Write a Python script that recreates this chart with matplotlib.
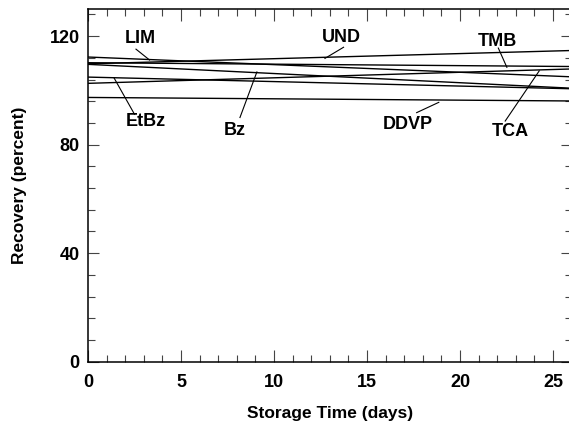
import matplotlib
matplotlib.use("Agg")
import matplotlib.pyplot as plt
from matplotlib.ticker import MultipleLocator

plt.rcParams['font.family'] = ['Liberation Sans', 'DejaVu Sans']
plt.rcParams['font.weight'] = 'bold'

# Regression lines: recovery (%) at day 0 and at day 26
compounds = ["LIM", "UND", "TMB", "Bz", "TCA", "EtBz", "DDVP"]
start_vals = [112.3, 109.8, 110.2, 109.6, 102.6, 104.9, 97.4]
end_vals = [105.0, 114.7, 108.8, 100.8, 107.9, 100.6, 96.1]
days = [0, 26]

# Label text positions and pointer (from -> to) in data units
label_xy = [(2.8, 119.2), (13.6, 119.5), (22.0, 118.2), (7.9, 85.3), (22.7, 85.0), (3.1, 88.5), (17.2, 87.6)]
ptr_from = [(2.58, 115.2), (13.74, 115.9), (22.06, 115.6), (8.17, 90.0), (22.43, 88.7), (2.5, 91.2), (17.67, 91.8)]
ptr_to = [(3.31, 111.2), (12.74, 111.8), (22.52, 108.5), (9.08, 106.8), (24.26, 107.2), (1.4, 104.6), (18.86, 95.6)]

fig = plt.figure(figsize=(5.69, 4.25), dpi=100)
ax = fig.add_axes([88/569, (425-361.7)/425, (26*18.6)/569, (361.7-9)/425])

for name, s, e in zip(compounds, start_vals, end_vals):
    ax.plot(days, [s, e], color='black', lw=1.0)

for name, (tx, ty), (fx, fy), (px, py) in zip(compounds, label_xy, ptr_from, ptr_to):
    ax.text(tx, ty, name, ha='center', va='center', fontsize=13, fontweight='bold')
    ax.plot([fx, px], [fy, py], color='black', lw=0.8)

ax.set_xlim(0, 26)
ax.set_ylim(0, 130)
ax.xaxis.set_major_locator(MultipleLocator(5))
ax.xaxis.set_minor_locator(MultipleLocator(1))
ax.yaxis.set_major_locator(MultipleLocator(40))
ax.yaxis.set_minor_locator(MultipleLocator(8))
ax.tick_params(axis='x', which='major', direction='in', length=8.6, width=0.8, color='#444', top=True, labelsize=13, pad=9)
ax.tick_params(axis='x', which='minor', direction='in', length=5, width=0.8, color='#444', top=True)
ax.tick_params(axis='y', which='major', direction='in', length=7.7, width=0.8, color='#444', right=True, labelsize=13, pad=6)
ax.tick_params(axis='y', which='minor', direction='in', length=4.8, width=0.8, color='#444', right=True)
for lab in ax.get_xticklabels() + ax.get_yticklabels():
    lab.set_fontweight('bold')
for sp in ax.spines.values():
    sp.set_linewidth(1.1)

ax.set_xlabel("Storage Time (days)", fontsize=12.5, fontweight='bold', labelpad=11)
ax.set_ylabel("Recovery (percent)", fontsize=12.5, fontweight='bold', labelpad=16)

fig.savefig("out.png", dpi=100)
